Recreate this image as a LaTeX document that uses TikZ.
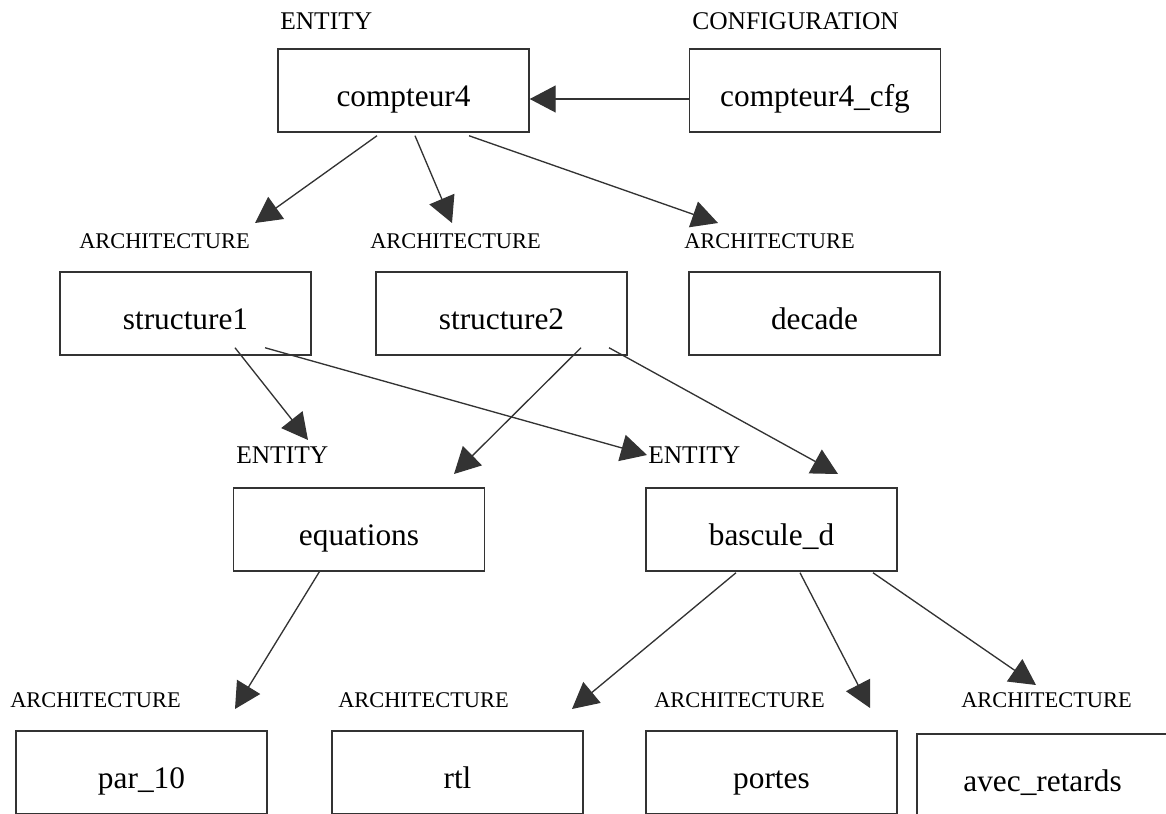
\documentclass[tikz,border=0pt]{standalone}
\usepackage{fontspec}
\setmainfont{Liberation Serif}
\usetikzlibrary{arrows.meta,calc}

\tikzset{
  box/.style={draw=black!80, line width=1.1pt, minimum width=188.25pt, minimum height=62.25pt,
    inner sep=0pt, text height=28pt, text depth=4pt, font=\fontsize{23.5}{28}\selectfont},
  kind/.style={anchor=base west, inner sep=0pt, font=\fontsize{19.1}{22}\selectfont},
  archkind/.style={kind, font=\fontsize{16.8}{20}\selectfont},
  link/.style={draw=black!80, line width=1pt, -{Triangle[length=19.5pt,width=20.25pt]}}
}

\begin{document}
\begin{tikzpicture}[x=0.75pt,y=-0.75pt]
\clip (0,0) rectangle (1166,813);
% units and entities
\node[box] (c4) at (403.5,90.5) {compteur4};
\node[box] (cfg) at (815,90.5) {compteur4\_cfg};
\node[box] (s1) at (185.5,313.5) {structure1};
\node[box] (s2) at (501.5,313.5) {structure2};
\node[box] (dec) at (814.5,313.5) {decade};
\node[box] (eq) at (359,529.5) {equations};
\node[box] (bd) at (771.5,529.5) {bascule\_d};
\node[box] (p10) at (141.5,772.5) {par\_10};
\node[box] (rtl) at (457.5,772.5) {rtl};
\node[box] (port) at (771.5,772.5) {portes};
\node[box] (ret) at (1042.5,775.5) {avec\_retards};
% kind labels
\node[kind] (k-c4) at (280,30) {ENTITY};
\node[kind] (k-cfg) at (692,29.5) {CONFIGURATION};
\node[kind] (k-eq) at (236,463) {ENTITY};
\node[kind] (k-bd) at (648,463) {ENTITY};
\foreach \n/\x/\y in {s1/79/248, s2/370/248, dec/684/248, p10/10/707, rtl/338/707, port/654/707, ret/961/707}
    \node[archkind] (k-\n) at (\x,\y) {ARCHITECTURE};
% arrow tips
\coordinate (t-s1) at (255,223);
\coordinate (t-s2) at (452,223);
\coordinate (t-dec) at (718,223);
\coordinate (t-eq1) at (308,440);
\coordinate (t-bd1) at (647,455);
\coordinate (t-eq2) at (454,474);
\coordinate (t-bd2) at (838,474);
\coordinate (t-p10) at (235,709);
\coordinate (t-rtl) at (572,709);
\coordinate (t-port) at (870,708);
\coordinate (t-ret) at (1036,685);
% links
\draw[link] ($(cfg.west)+(0,8.5)$) -- ($(c4.east)+(0,8.5)$);
\foreach \dx/\t in {-26.5/s1, 11.5/s2, 65.5/dec}
    \draw[link] ($(c4.south)+(\dx,3)$) -- (t-\t);
\draw[link] ($(s1.south)+(49.5,-8)$) -- (t-eq1);
\draw[link] ($(s1.south)+(79.5,-8)$) -- (t-bd1);
\draw[link] ($(s2.south)+(79.5,-8)$) -- (t-eq2);
\draw[link] ($(s2.south)+(107.5,-8)$) -- (t-bd2);
\draw[link] ($(eq.south)+(-39,-1)$) -- (t-p10);
\foreach \dx/\t in {-35.5/rtl, 28.5/port, 101.5/ret}
    \draw[link] ($(bd.south)+(\dx,1)$) -- (t-\t);
\end{tikzpicture}
\end{document}
